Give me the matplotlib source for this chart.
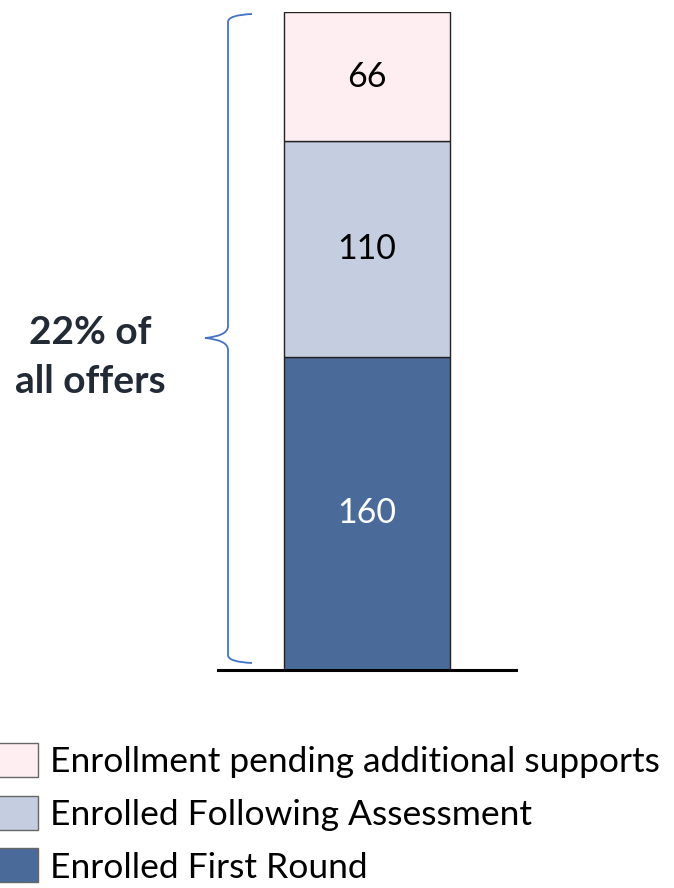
import matplotlib
matplotlib.use("Agg")
import matplotlib.pyplot as plt
from matplotlib.path import Path
from matplotlib.patches import PathPatch, Patch

plt.rcParams['font.family'] = ['Lato', 'DejaVu Sans']

# Stacked segments, bottom to top
categories = ["Enrolled First Round", "Enrolled Following Assessment",
              "Enrollment pending additional supports"]
values = [160, 110, 66]
colors = ["#4A6B99", "#C4CEE0", "#FFEEF1"]
label_colors = ["white", "black", "black"]
annotation = "22% of\nall offers"

W, H = 674, 888
fig = plt.figure(figsize=(W / 100, H / 100), dpi=100)
total = sum(values)

# Axes placed in pixel terms: baseline at y=670, bar top at y=12
ax_left, ax_right = 218, 516
ax_bottom, ax_top = 670, 12
ax = fig.add_axes([ax_left / W, (H - ax_bottom) / H,
                   (ax_right - ax_left) / W, (ax_bottom - ax_top) / H])
ax.set_xlim(0, 1)
ax.set_ylim(0, total)

bottom = 0
for v, c, lc in zip(values, colors, label_colors):
    ax.bar(0.5, v, width=0.557, bottom=bottom, color=c,
           edgecolor="#222222", linewidth=1.0)
    ax.text(0.5, bottom + v / 2, str(v), ha="center", va="center",
            fontsize=24.5, color=lc)
    bottom += v

for s in ["top", "left", "right"]:
    ax.spines[s].set_visible(False)
ax.spines["bottom"].set_linewidth(2.2)
ax.spines["bottom"].set_color("black")
ax.set_xticks([])
ax.set_yticks([])

# Curly brace spanning the whole bar, drawn in figure pixel coordinates
def px(x, y):
    return (x / W, 1 - y / H)

xv, xe, xt = 228, 252, 205
y0, y1, ym = 14, 663, 338
verts = [px(xe, y0), px(xv, y0 + 1), px(xv, y0 + 8),
         px(xv, ym - 12), px(xv, ym - 2), px(xt, ym),
         px(xv, ym + 2), px(xv, ym + 12),
         px(xv, y1 - 8), px(xv, y1 - 1), px(xe, y1)]
codes = [Path.MOVETO, Path.CURVE3, Path.CURVE3,
         Path.LINETO, Path.CURVE3, Path.CURVE3,
         Path.CURVE3, Path.CURVE3,
         Path.LINETO, Path.CURVE3, Path.CURVE3]
brace = PathPatch(Path(verts, codes), transform=fig.transFigure,
                  fill=False, edgecolor="#4472C4", linewidth=1.3)
fig.patches.append(brace)

fig.text(90 / W, 1 - 357 / H, annotation, ha="center", va="center",
         fontsize=28, fontweight="bold", color="#222A35", linespacing=1.45)

handles = [Patch(facecolor=c, edgecolor="#666666", linewidth=1.0, label=l)
           for c, l in zip(colors[::-1], categories[::-1])]
fig.legend(handles=handles, loc="upper left",
           bbox_to_anchor=(-0.003, 1 - 743 / H), frameon=False,
           fontsize=25.5, handlelength=1.13, handleheight=1.1,
           handletextpad=0.33, labelspacing=0.5, borderaxespad=0,
           borderpad=0)

fig.savefig("out.png", dpi=100)
